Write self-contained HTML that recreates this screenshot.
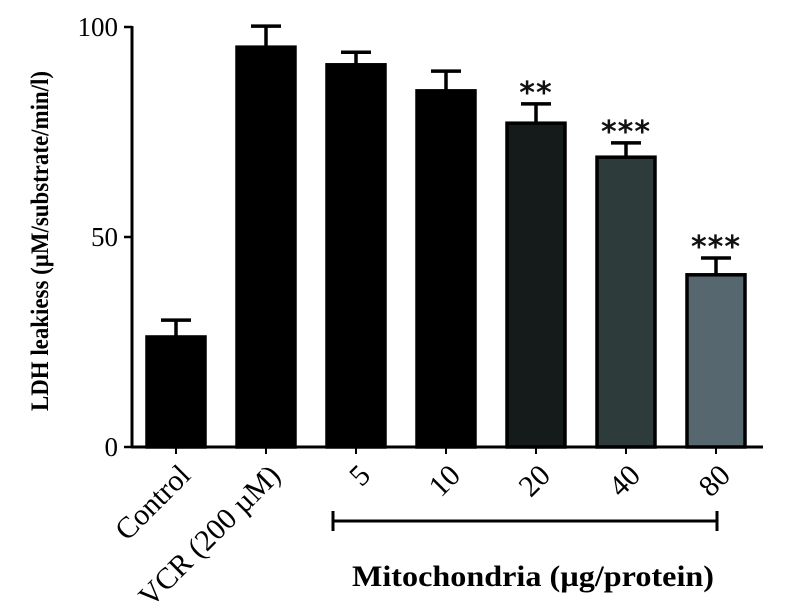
<!DOCTYPE html>
<html><head><meta charset="utf-8"><style>
html,body{margin:0;padding:0;background:#fff;}
svg{display:block;}
</style></head><body>
<svg id="chart" width="794" height="608" viewBox="0 0 794 608" xmlns="http://www.w3.org/2000/svg">
<g id="bars"></g>
<g id="axes"></g>
</svg>
<script>
const categories = ["Control", "VCR (200 µM)", "5", "10", "20", "40", "80"];
const values = [26.2, 95.2, 91, 84.8, 77.1, 69, 41];
const errors = [4.0, 5.0, 3.0, 4.7, 4.6, 3.4, 4.0];
const significance = ["", "", "", "", "**", "***", "***"];
const colors = ["#000000", "#000000", "#000000", "#000000", "#151a1a", "#2d3b3b", "#566770"];
const yTicks = [0, 50, 100];

const NS = "http://www.w3.org/2000/svg";
const x0 = 176, step = 90, barW = 58;
const yBase = 447, yScale = 4.2;
function xPos(i){ return x0 + i*step; }
function yPos(v){ return yBase - v*yScale; }
function mk(tag, attrs, parent, text){
  const e = document.createElementNS(NS, tag);
  for (const k in attrs) e.setAttribute(k, attrs[k]);
  if (text !== undefined) e.textContent = text;
  parent.appendChild(e);
  return e;
}
const bars = document.getElementById("bars");
const axes = document.getElementById("axes");

values.forEach((v, i) => {
  const cx = xPos(i);
  const r = mk("rect", {x: cx - barW/2, y: yPos(v), width: barW, height: yBase - yPos(v), fill: colors[i], stroke: "#000", "stroke-width": 3.5}, bars);
  
  
  const eTop = yPos(v + errors[i]);
  const l = mk("line", {x1: cx, x2: cx, y1: yPos(v), y2: eTop, stroke: "#000", "stroke-width": 3.5}, bars);
  
  
  const c = mk("line", {x1: cx - 15, x2: cx + 15, y1: eTop, y2: eTop, stroke: "#000", "stroke-width": 3.5}, bars);
  
  
  if (significance[i]) {
    const s = mk("text", {x: cx, y: eTop - 1, "text-anchor": "middle", "font-family": "DejaVu Sans, sans-serif", "font-weight": "bold", "font-size": 30, fill: "#111", "letter-spacing": 1}, bars, significance[i]);
    
    
  }
  const t = mk("line", {x1: cx, x2: cx, y1: yBase, y2: yBase + 7, stroke: "#000", "stroke-width": 2}, axes);
  
  
  const lab = mk("text", {x: 0, y: 0, "text-anchor": "end", "font-family": "Liberation Serif, serif", "font-size": 30, fill: "#000", transform: "translate(" + (cx + 16) + "," + (yBase + 30) + ") rotate(-45)"}, axes, categories[i]);
  
  
});

const ya = mk("line", {x1: 132, x2: 132, y1: yPos(100) - 1, y2: yBase + 1, stroke: "#000", "stroke-width": 3}, axes);


const xa = mk("line", {x1: 131, x2: 763, y1: yBase, y2: yBase, stroke: "#000", "stroke-width": 3}, axes);


yTicks.forEach(v => {
  const t = mk("line", {x1: 124, x2: 132, y1: yPos(v), y2: yPos(v), stroke: "#000", "stroke-width": 2.5}, axes);
  
  
  const l = mk("text", {x: 118, y: yPos(v) + 9, "text-anchor": "end", "font-family": "Liberation Serif, serif", "font-size": 27, fill: "#000"}, axes, String(v));
  
  
});
const yt = mk("text", {x: 0, y: 0, "text-anchor": "middle", "font-family": "Liberation Serif, serif", "font-weight": "bold", "font-size": 25, fill: "#000", textLength: 340, lengthAdjust: "spacingAndGlyphs", transform: "translate(48,241) rotate(-90)"}, axes, "LDH leakiess (µM/substrate/min/l)");



const b = mk("path", {d: "M333,511 V531 M333,521 H717 M717,511 V531", stroke: "#000", "stroke-width": 3, fill: "none"}, axes);


const bt = mk("text", {x: 533, y: 586, "text-anchor": "middle", "font-family": "Liberation Serif, serif", "font-weight": "bold", "font-size": 30, fill: "#000", textLength: 362, lengthAdjust: "spacingAndGlyphs"}, axes, "Mitochondria (µg/protein)");


</script>
</body></html>
